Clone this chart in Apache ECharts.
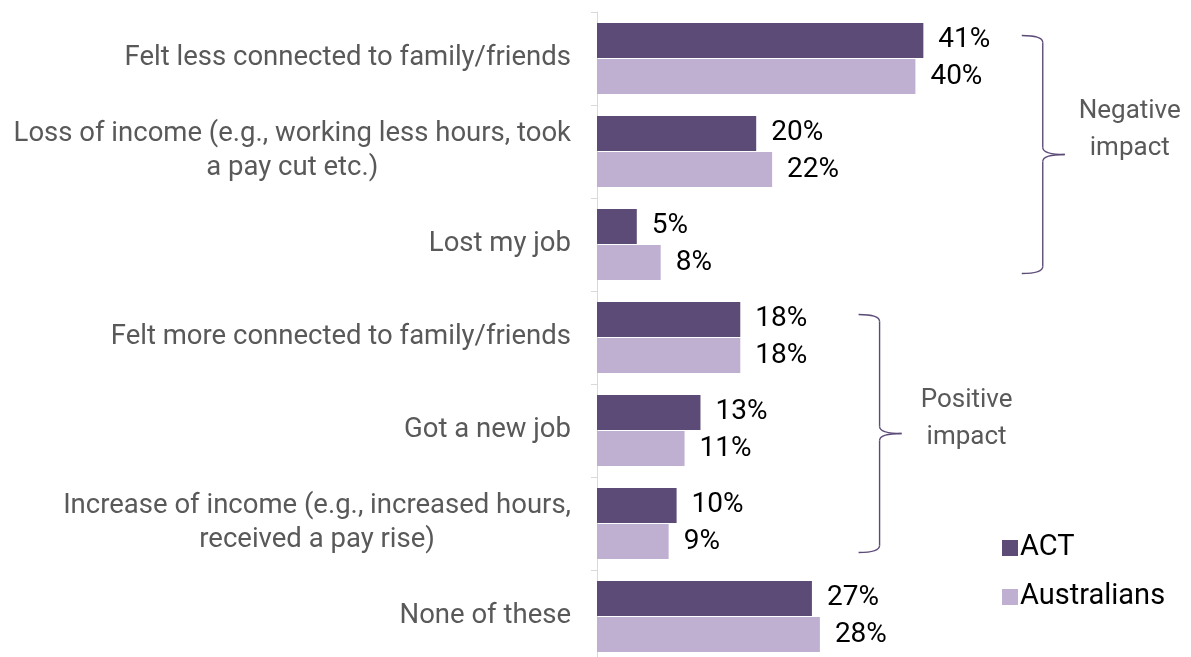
<!DOCTYPE html>
<html>
<head>
<meta charset="utf-8">
<script src="https://cdn.jsdelivr.net/npm/echarts@6/dist/echarts.min.js"></script>
<style>
html,body{margin:0;padding:0;background:#fff;}
#c{width:1191px;height:657px;}
</style>
</head>
<body>
<div id="c"></div>
<script>
var categories = [
  "Felt less connected to family/friends",
  "Loss of income (e.g., working less hours, took\na pay cut etc.)",
  "Lost my job",
  "Felt more connected to family/friends",
  "Got a new job",
  "Increase of income (e.g., increased hours,\nreceived a pay rise)",
  "None of these"
];
var actValues = [41, 20, 5, 18, 13, 10, 27];
var ausValues = [40, 22, 8, 18, 11, 9, 28];
var seriesNames = ["ACT", "Australians"];
var groupLabels = ["Negative\nimpact", "Positive\nimpact"];

var FONT = "Roboto";
var chart = echarts.init(document.getElementById('c'), null, {renderer: 'canvas'});

var labelCfg = {
  show: true,
  position: 'right',
  distance: 15,
  formatter: '{c}%',
  color: '#000',
  fontFamily: FONT,
  fontSize: 28
};

chart.setOption({
  animation: false,
  grid: {left: 597, width: 398, top: 12, height: 651, containLabel: false, outerBoundsMode: 'none'},
  xAxis: {
    type: 'value', min: 0, max: 50, show: false
  },
  yAxis: {
    type: 'category',
    data: categories,
    inverse: true,
    axisLine: {show: true, lineStyle: {color: '#d9d9d9', width: 1}},
    axisTick: {show: true, length: 6, lineStyle: {color: '#d9d9d9'}},
    axisLabel: {
      margin: 26,
      formatter: function (v) { return '{c|' + v + '}'; },
      rich: {c: {align: 'center', color: '#595959', fontFamily: FONT, fontSize: 27.5, lineHeight: 34}}
    }
  },
  legend: {
    orient: 'vertical',
    left: 997, top: 528,
    itemWidth: 16, itemHeight: 16,
    itemGap: 19,
    icon: 'rect',
    textStyle: {color: '#000', fontFamily: FONT, fontSize: 29, lineHeight: 30, padding: [0, 0, 0, -3]},
    data: seriesNames
  },
  series: [
    {name: seriesNames[0], type: 'bar', data: actValues, barWidth: 35, barGap: '3%',
     itemStyle: {color: '#5C4B77'}, label: labelCfg},
    {name: seriesNames[1], type: 'bar', data: ausValues, barWidth: 35, barGap: '3%',
     itemStyle: {color: '#BFB0D2'}, label: labelCfg}
  ]
});

function bracket(xVal, catStart, catEnd, text, textDx, textDy) {
  var xp = chart.convertToPixel({gridIndex: 0}, [xVal, 0])[0];
  var y0 = chart.convertToPixel({gridIndex: 0}, [0, catStart])[1];
  var y1 = chart.convertToPixel({gridIndex: 0}, [0, catEnd])[1];
  var top = y0 - 23, bot = y1 + 29, mid = (top + bot) / 2;
  var hw = 21, tip = 22, r = 7;
  var st = {stroke: '#5C4B77', lineWidth: 1.4, fill: null};
  function curve(x1, y1_, cx, cy, x2, y2) {
    return {type: 'bezierCurve', shape: {x1: x1, y1: y1_, cpx1: cx, cpy1: cy, x2: x2, y2: y2}, style: st};
  }
  function line(x1, y1_, x2, y2) {
    return {type: 'line', shape: {x1: x1, y1: y1_, x2: x2, y2: y2}, style: st};
  }
  return [
    curve(xp - hw, top, xp, top, xp, top + r),
    line(xp, top + r, xp, mid - r),
    curve(xp, mid - r, xp, mid, xp + tip, mid),
    curve(xp + tip, mid, xp, mid, xp, mid + r),
    line(xp, mid + r, xp, bot - r),
    curve(xp, bot - r, xp, bot, xp - hw, bot),
    {type: 'text', x: xp + textDx, y: mid + textDy,
     style: {text: text, fill: '#595959', fontFamily: FONT, fontSize: 26, align: 'center', verticalAlign: 'middle', lineHeight: 37}}
  ];
}
var g = [].concat(
  bracket(56, 0, 2, groupLabels[0], 87, -25),
  bracket(35.5, 3, 5, groupLabels[1], 87, -15)
);
chart.setOption({graphic: g});
</script>
</body>
</html>
